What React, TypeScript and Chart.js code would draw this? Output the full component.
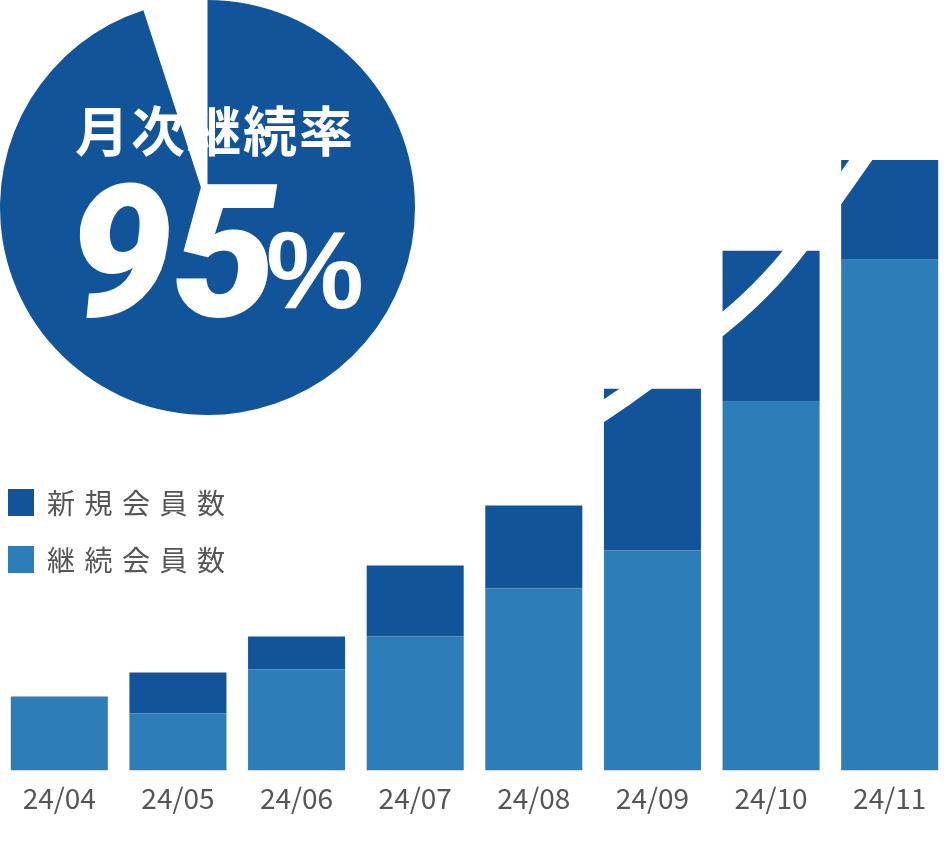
import { useEffect, useRef } from 'react';
import { Chart, registerables } from 'chart.js';

Chart.register(...registerables);

// chart data
const MONTHS = ['24/04', '24/05', '24/06', '24/07', '24/08', '24/09', '24/10', '24/11'];
const NEW_MEMBERS = [0, 41, 33, 71, 83, 162, 151, 100];
const CONTINUING_MEMBERS = [74, 57, 101, 134, 182, 220, 369, 511];
const TREND = [null, null, null, 257, 316, 394, 492, 651];
const RETENTION = [95, 5];
const SERIES_LABELS = ['新規会員数', '継続会員数'];
const PIE_LABELS = ['継続', '解約'];
const Y_MAX = 771;

const DARK = '#12549a';
const LIGHT = '#2d7db8';
const GRAY = '#555555';
const JP_FONT = '"Noto Sans CJK JP", "Noto Sans", sans-serif';

function MemberBars() {
  const canvasRef = useRef<HTMLCanvasElement>(null);

  useEffect(() => {
    if (!canvasRef.current) return;
    const chart = new Chart(canvasRef.current, {
      type: 'bar',
      data: {
        labels: MONTHS,
        datasets: [
          {
            type: 'line',
            label: 'trend',
            data: TREND,
            borderColor: '#ffffff',
            borderWidth: 19,
            pointRadius: 0,
            cubicInterpolationMode: 'monotone',
            fill: false,
            order: 0,
            stack: 'trend',
          } as any,
          { label: SERIES_LABELS[1], data: CONTINUING_MEMBERS, backgroundColor: LIGHT, order: 1, stack: 'members' },
          { label: SERIES_LABELS[0], data: NEW_MEMBERS, backgroundColor: DARK, order: 2, stack: 'members' },
        ],
      },
      options: {
        responsive: false,
        animation: false,
        layout: { padding: { top: 0, left: 0, right: 0, bottom: 17 } },
        datasets: { bar: { categoryPercentage: 1, barPercentage: 0.818, borderWidth: 0 } },
        plugins: { legend: { display: false }, tooltip: { enabled: false } },
        scales: {
          x: {
            stacked: true,
            grid: { display: false, drawTicks: false },
            border: { display: false },
            ticks: { color: GRAY, padding: 11, font: { family: JP_FONT, size: 28 } },
          },
          y: { stacked: true, display: false, min: 0, max: Y_MAX },
        },
      },
    });
    return () => chart.destroy();
  }, []);

  return <canvas ref={canvasRef} width={949} height={843} style={{ position: 'absolute', left: 0, top: 0 }} />;
}

function RetentionPie() {
  const canvasRef = useRef<HTMLCanvasElement>(null);

  useEffect(() => {
    if (!canvasRef.current) return;
    const chart = new Chart(canvasRef.current, {
      type: 'pie',
      data: {
        labels: PIE_LABELS,
        datasets: [{ data: RETENTION, backgroundColor: [DARK, 'rgba(255,255,255,0)'], borderWidth: 0 }],
      },
      options: {
        responsive: false,
        animation: false,
        layout: { padding: 0 },
        plugins: { legend: { display: false }, tooltip: { enabled: false } },
      },
    });
    return () => chart.destroy();
  }, []);

  return <canvas ref={canvasRef} width={415} height={415} style={{ position: 'absolute', left: 0, top: 0 }} />;
}

export default function App() {
  const legendItems = [
    { label: SERIES_LABELS[0], color: DARK },
    { label: SERIES_LABELS[1], color: LIGHT },
  ];

  return (
    <div style={{ position: 'absolute', left: 0, top: 0, width: 949, height: 843, background: '#fff', overflow: 'hidden' }}>
      <MemberBars />
      <RetentionPie />

      <div style={{
        position: 'absolute', left: 75, top: 102, color: '#fff', fontFamily: JP_FONT,
        fontWeight: 700, fontSize: 54, lineHeight: 1, letterSpacing: 2, whiteSpace: 'nowrap',
      }}>
        月次継続率
      </div>
      <div style={{
        position: 'absolute', left: 68, top: 159, color: '#fff', fontFamily: 'Roboto, sans-serif',
        fontWeight: 900, fontStyle: 'italic', fontSize: 186, lineHeight: 1, whiteSpace: 'nowrap',
      }}>
        {RETENTION[0]}
      </div>
      <div style={{
        position: 'absolute', left: 266, top: 215, color: '#fff', fontFamily: '"Liberation Sans", sans-serif',
        fontWeight: 700, fontSize: 110, lineHeight: 1, whiteSpace: 'nowrap',
      }}>
        %
      </div>

      {legendItems.map((item, i) => (
        <div key={item.label} style={{
          position: 'absolute', left: 8, top: 485 + i * 57, height: 34, display: 'flex', alignItems: 'center',
          fontFamily: JP_FONT, fontSize: 28, color: GRAY, letterSpacing: 9.5, whiteSpace: 'nowrap',
        }}>
          <span style={{ display: 'inline-block', width: 26, height: 27, background: item.color, marginRight: 13 }} />
          <span>{item.label}</span>
        </div>
      ))}
    </div>
  );
}
